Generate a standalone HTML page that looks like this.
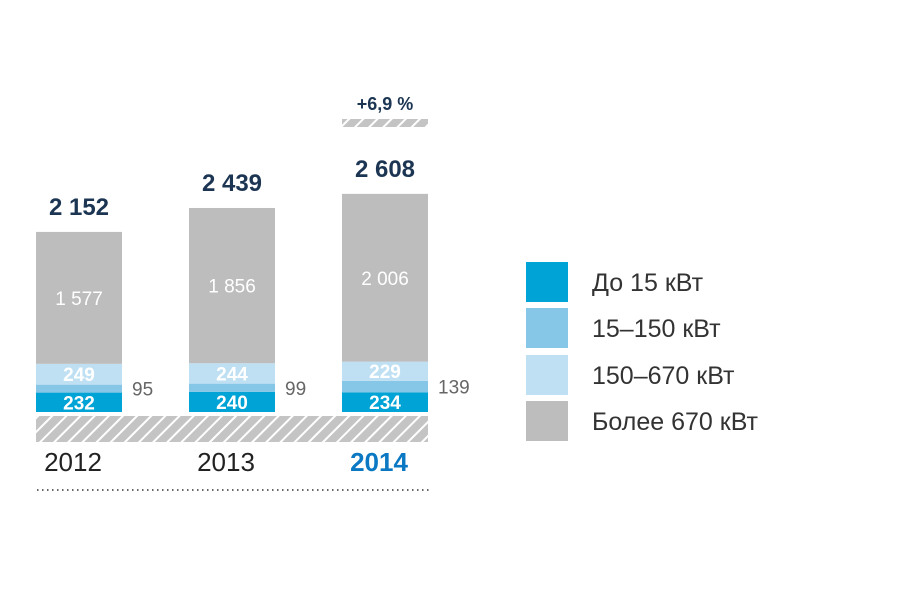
<!DOCTYPE html>
<html><head><meta charset="utf-8"><style>
html,body{margin:0;padding:0;background:#fff;}
svg text{font-family:"Liberation Sans","DejaVu Sans",sans-serif;}
</style></head><body>
<svg id="chart" width="919" height="591" viewBox="0 0 919 591">
<defs>
<pattern id="hatch" patternUnits="userSpaceOnUse" width="10" height="10" patternTransform="rotate(45)">
<rect width="10" height="10" fill="#c4c4c4"/><rect x="0" y="0" width="2" height="10" fill="#fff"/>
</pattern>
</defs>
<g id="bars"></g>
<rect x="36" y="416" width="392" height="26" fill="url(#hatch)"/>
<rect x="342" y="119" width="86" height="8" fill="url(#hatch)"/>
<text x="385" y="110" text-anchor="middle" font-size="18" font-weight="bold" fill="#1b3553">+6,9 %</text>
<line x1="37" y1="490" x2="430" y2="490" stroke="#333" stroke-width="1.5" stroke-dasharray="1.5,3.5"/>
<g id="legend"></g>
</svg>
<script>
const years = ["2012","2013","2014"];
const s15 = [232,240,234];
const s150 = [95,99,139];
const s670 = [249,244,229];
const sBig = [1577,1856,2006];
const totals = ["2 152","2 439","2 608"];
const bigLabels = ["1 577","1 856","2 006"];
const seriesNames = ["До 15 кВт","15–150 кВт","150–670 кВт","Более 670 кВт"];
const colors = ["#00a3d6","#86c6e6","#bfe0f3","#bdbdbd"];
const NS="http://www.w3.org/2000/svg";
const base=412, k=180/2152, x0=36, step=153, bw=86;
const y=v=>v*k;
const g=document.getElementById('bars');
function mk(tag,attrs,parent,text){const e=document.createElementNS(NS,tag);for(const a in attrs)e.setAttribute(a,attrs[a]);if(text!==undefined)e.textContent=text;parent.appendChild(e);return e;}
years.forEach((yr,i)=>{
  const x=x0+i*step;
  const vals=[s15[i],s150[i],s670[i],sBig[i]];
  let cur=base;
  const mids=[];
  vals.forEach((v,j)=>{
    const h=y(v);cur-=h;
    const r=mk('rect',{x:x,y:cur,width:bw,height:h,fill:colors[j]},g);
    
    
    mids.push(cur+h/2);
  });
  const t1=mk('text',{x:x+bw/2,y:mids[0]+7,'text-anchor':'middle','font-size':19,'font-weight':'bold',fill:'#fff'},g,String(s15[i]));
  
  
  const t2=mk('text',{x:x+bw/2,y:mids[2]+7,'text-anchor':'middle','font-size':19,'font-weight':'bold',fill:'#fff'},g,String(s670[i]));
  
  
  const t3=mk('text',{x:x+bw/2,y:mids[3]+7,'text-anchor':'middle','font-size':19,fill:'#fff'},g,bigLabels[i]);
  
  
  const t4=mk('text',{x:x+bw+10,y:mids[1]+7,'font-size':19,fill:'#666'},g,String(s150[i]));
  
  
  const top=cur;
  const t5=mk('text',{x:x+bw/2,y:top-17,'text-anchor':'middle','font-size':24,'font-weight':'bold',fill:'#1b3553'},g,totals[i]);
  
  
  const last=i===years.length-1;
  const t6=mk('text',{x:x+bw/2-6,y:471,'text-anchor':'middle','font-size':26,'font-weight':last?'bold':'normal',fill:last?'#0a78c2':'#222'},g,yr);
  
  
});
const lg=document.getElementById('legend');
const ly=[262,308,355,401];
seriesNames.forEach((n,j)=>{
  const r=mk('rect',{x:526,y:ly[j],width:42,height:40,fill:colors[j]},lg);
  
  
  const t=mk('text',{x:592,y:ly[j]+29,'font-size':25,fill:'#333'},lg,n);
  
  
});
</script>
</body></html>
